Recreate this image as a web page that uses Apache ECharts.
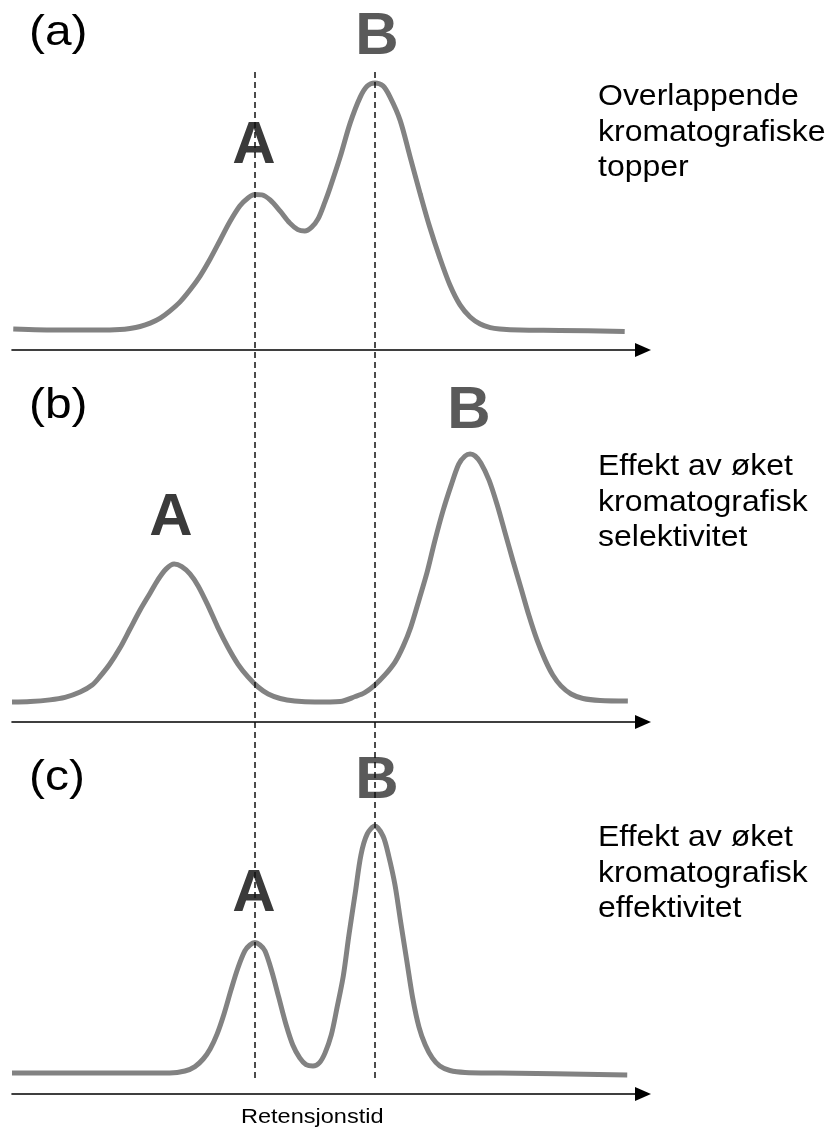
<!DOCTYPE html>
<html>
<head>
<meta charset="utf-8">
<script src="https://cdn.jsdelivr.net/npm/echarts@6/dist/echarts.min.js"></script>
<style>
  html, body { margin: 0; padding: 0; background: #ffffff; }
  #chart { width: 831px; height: 1131px; }
</style>
</head>
<body>
<div id="chart"></div>
<script>
// ---- Data (retention time 0-100, detector signal 0-100) ----
const timeA = [0.2, 7.6, 13.9, 17.1, 18.7, 20.3, 21.9, 23.5, 25.0, 26.6, 28.2, 29.8, 31.4, 33.0, 34.5, 36.1, 37.4, 38.5, 39.6, 40.9, 42.5, 44.0, 45.3, 46.4, 47.5, 48.5, 49.6, 50.4, 52.0, 53.6, 55.2, 56.3, 57.5, 58.8, 59.9, 61.5, 63.1, 64.7, 66.2, 67.8, 69.4, 71.0, 72.6, 74.2, 75.8, 77.3, 80.5, 86.8, 97.1];
const signalA = [7.5, 7.1, 7.1, 7.3, 7.7, 8.4, 9.6, 11.4, 13.9, 17.1, 21.4, 26.4, 32.5, 39.3, 45.7, 51.4, 54.3, 55.5, 55.4, 53.6, 49.6, 45.4, 43.0, 42.5, 43.9, 46.8, 52.9, 57.9, 68.9, 81.1, 90.4, 94.3, 95.4, 94.3, 90.4, 82.1, 68.9, 55.7, 43.9, 32.9, 23.2, 16.1, 11.8, 9.3, 8.0, 7.5, 7.1, 7.0, 6.6];

const timeB = [0, 2.9, 6.0, 8.4, 10.8, 12.7, 13.9, 15.5, 17.1, 18.7, 20.3, 21.9, 23.1, 24.4, 25.7, 26.9, 28.2, 29.5, 31.1, 32.6, 34.2, 35.8, 37.4, 39.0, 40.6, 42.5, 44.8, 48.0, 52.0, 54.4, 55.9, 57.5, 59.1, 60.7, 62.0, 63.2, 64.5, 65.8, 67.0, 68.3, 69.6, 70.8, 71.8, 72.6, 73.4, 74.3, 75.6, 76.9, 78.1, 79.4, 80.7, 81.9, 83.2, 84.5, 85.7, 87.0, 88.6, 90.5, 93.2, 97.6];
const signalB = [7.1, 7.3, 7.9, 8.8, 10.7, 13.2, 16.1, 20.7, 26.4, 33.2, 40.0, 46.1, 50.7, 54.6, 56.4, 55.5, 52.9, 48.6, 41.4, 33.9, 26.8, 20.7, 16.1, 12.5, 10.0, 8.4, 7.5, 7.1, 7.3, 9.1, 10.5, 13.2, 16.8, 21.4, 27.1, 33.9, 43.6, 53.6, 64.6, 75.4, 84.6, 92.1, 95.0, 95.7, 95.0, 92.5, 86.4, 77.5, 67.9, 57.5, 47.5, 38.2, 29.3, 22.1, 16.8, 12.9, 10.0, 8.4, 7.7, 7.5];

const timeC = [0, 13.9, 21.9, 25.0, 27.4, 29.0, 30.3, 31.4, 32.5, 33.6, 34.7, 35.8, 36.9, 37.7, 38.5, 39.3, 40.1, 41.2, 42.3, 43.4, 44.5, 45.6, 46.6, 47.7, 48.7, 49.6, 50.6, 51.5, 52.5, 53.4, 54.4, 55.3, 56.3, 57.5, 58.8, 59.7, 60.7, 61.6, 62.6, 63.5, 64.5, 65.5, 66.6, 67.8, 69.4, 71.8, 77.3, 97.5];
const signalC = [7.5, 7.5, 7.5, 7.5, 8.2, 9.8, 12.5, 16.1, 21.4, 28.6, 37.1, 45.0, 51.1, 53.2, 54.1, 53.2, 51.1, 43.6, 34.3, 25.0, 17.5, 12.9, 10.5, 10.0, 11.1, 14.6, 21.1, 30.7, 42.1, 56.8, 71.8, 85.4, 92.9, 95.7, 92.1, 85.0, 74.6, 61.4, 47.1, 34.3, 23.9, 17.5, 12.9, 10.0, 8.4, 7.7, 7.5, 6.8];

// original retention times of A and B (dashed reference lines)
const referenceTimes = [38.5, 57.5];

const panelLabels = ['(a)', '(b)', '(c)'];
const peakNames = ['A', 'B'];
const captions = [
  ['Overlappende', 'kromatografiske', 'topper'],
  ['Effekt av øket', 'kromatografisk', 'selektivitet'],
  ['Effekt av øket', 'kromatografisk', 'effektivitet']
];
const axisTitle = 'Retensjonstid';

// ---- Layout ----
const FONT = '"Liberation Sans", Arial, Helvetica, sans-serif';
const gridLeft = 12, gridWidth = 631, gridHeight = 280;
const panelTops = [70, 442, 814];

function zip(xs, ys) { return xs.map((x, i) => [x, ys[i]]); }
const panels = [zip(timeA, signalA), zip(timeB, signalB), zip(timeC, signalC)];

const grids = panelTops.map(t => ({ left: gridLeft, top: t, width: gridWidth, height: gridHeight }));
grids.push({ left: gridLeft, top: 69, width: gridWidth, height: 1009 });

const xAxes = panelTops.map((t, i) => ({
  type: 'value', gridIndex: i, min: 0, max: 100,
  axisLine: { show: true, onZero: false, symbol: ['none', 'triangle'], symbolSize: [14, 16],
              lineStyle: { color: '#000', width: 1.6 } },
  axisTick: { show: false }, axisLabel: { show: false }, splitLine: { show: false }
}));
xAxes.push({ type: 'value', gridIndex: 3, min: 0, max: 100, show: false });

const yAxes = [0, 1, 2].map(i => ({ type: 'value', gridIndex: i, min: 0, max: 100, show: false }));
yAxes.push({ type: 'value', gridIndex: 3, min: 0, max: 1, show: false });

const series = panels.map((d, i) => ({
  type: 'line', xAxisIndex: i, yAxisIndex: i, data: d,
  smooth: 0.3, symbol: 'none', silent: true, z: 2,
  lineStyle: { color: '#828282', width: 5 }
}));
series.push({
  type: 'line', xAxisIndex: 3, yAxisIndex: 3, data: [], z: 10, silent: true,
  markLine: {
    silent: true, symbol: ['none', 'none'], label: { show: false },
    lineStyle: { color: '#111', width: 1.5, type: [6, 4] },
    data: referenceTimes.map(t => ({ xAxis: t }))
  }
});

// ---- Text ----
const g = [];
const labelY = [33, 406, 778];
panelLabels.forEach((s, i) => g.push({
  type: 'text', x: 29, y: labelY[i], z: 1, scaleX: 1.14,
  style: { text: s, font: '42px ' + FONT, fill: '#000', align: 'left', verticalAlign: 'middle' }
}));
const peakPos = [
  [[254, 146.5], [377, 37]],
  [[171, 518], [469, 411.5]],
  [[254, 894.5], [377, 781.5]]
];
const peakColors = ['#3a3a3a', '#5a5a5a'];
peakPos.forEach(pp => pp.forEach((p, j) => g.push({
  type: 'text', x: p[0], y: p[1], z: 1,
  style: { text: peakNames[j], font: 'bold 60px ' + FONT, fill: peakColors[j], align: 'center', verticalAlign: 'middle' }
})));
const captionY = [97, 467, 838];
captions.forEach((lines, i) => lines.forEach((s, k) => g.push({
  type: 'text', x: 598, y: captionY[i] + k * 35.5, z: 1, scaleX: 1.066,
  style: { text: s, font: '30px ' + FONT, fill: '#000', align: 'left', verticalAlign: 'middle' }
})));
g.push({
  type: 'text', x: 241, y: 1117, z: 1, scaleX: 1.12,
  style: { text: axisTitle, font: '21px ' + FONT, fill: '#000', align: 'left', verticalAlign: 'middle' }
});

const chart = echarts.init(document.getElementById('chart'), null, { renderer: 'canvas' });
chart.setOption({
  backgroundColor: '#ffffff',
  animation: false,
  grid: grids,
  xAxis: xAxes,
  yAxis: yAxes,
  series: series,
  graphic: { elements: g }
});
</script>
</body>
</html>
